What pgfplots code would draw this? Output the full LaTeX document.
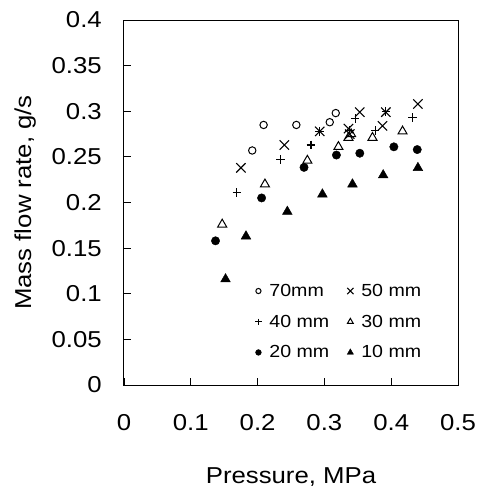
\documentclass[border=0pt]{standalone}
\usepackage{fontspec}
\setmainfont{Liberation Sans}[FakeStretch=1.12]
\usepackage{pgfplots}
\pgfplotsset{compat=1.18}
\begin{document}
\begin{tikzpicture}
\begin{axis}[
  scale only axis, width=334bp, height=365bp,
  xmin=0, xmax=0.5, ymin=0, ymax=0.4,
  xtick={0,0.1,0.2,0.3,0.4,0.5},
  ytick={0,0.05,0.1,0.15,0.2,0.25,0.3,0.35,0.4},
  tick align=inside, xtick pos=bottom, ytick pos=left,
  major tick length=7bp,
  axis line style={line width=1bp},
  every tick/.style={black, line width=0.8bp},
  /pgf/number format/assume math mode=true,
  ticklabel style={font=\fontsize{23bp}{27bp}\selectfont},
  y tick label style={/pgf/number format/fixed, /pgf/number format/precision=2, anchor=east, inner sep=0pt, xshift=-22bp},
  x tick label style={/pgf/number format/fixed, anchor=center, inner sep=0pt, yshift=-38bp},
  xlabel={Pressure, MPa}, ylabel={Mass flow rate, g/s},
  label style={font=\fontsize{23bp}{27bp}\selectfont},
  xlabel style={at={(axis description cs:0.5,-0.252)}, anchor=center},
  ylabel style={at={(axis description cs:-0.296,0.5)}, anchor=center},
  legend columns=2,
  legend cell align=left,
  legend image code/.code={\path[draw=none,fill=none] (0bp,-5bp) rectangle (15bp,5bp); \draw[mark repeat=1,#1] plot coordinates {(5bp,0bp)};},
  legend style={draw=none, fill=none, at={(axis cs:0.189,0.114)}, anchor=north west,
    font=\fontsize{17.5bp}{20bp}\selectfont,
    /tikz/every even column/.append style={column sep=15bp},
    row sep=15bp,
    nodes={inner sep=1bp}},
]
\addplot[only marks, mark=o, mark size=3.7bp, line width=1bp, legend image post style={mark size=2.6bp}] coordinates {
(0.192,0.257) (0.209,0.285) (0.258,0.285) (0.308,0.288) (0.317,0.298)};
\addlegendentry{70mm}
\addplot[only marks, mark=x, mark size=6.6bp, line width=1.1bp, legend image post style={mark size=4.4bp}] coordinates {
(0.175,0.238) (0.240,0.263) (0.293,0.278) (0.336,0.281) (0.338,0.275) (0.353,0.299) (0.392,0.299) (0.387,0.284) (0.440,0.308)};
\addlegendentry{50 mm}
\addplot[only marks, mark=+, mark size=4.3bp, line width=1.1bp, legend image post style={mark size=3.2bp}] coordinates {
(0.169,0.211) (0.234,0.247) (0.280,0.263) (0.293,0.278) (0.337,0.279) (0.346,0.292) (0.376,0.279) (0.392,0.300) (0.432,0.293)};
\addlegendentry{40 mm}
\addplot[only marks, mark=triangle, mark size=5.2bp, line width=1bp, legend image post style={mark size=3.4bp}] coordinates {
(0.147,0.176) (0.211,0.220) (0.2745,0.246) (0.321,0.261) (0.336,0.271) (0.340,0.275) (0.372,0.271) (0.417,0.278)};
\addlegendentry{30 mm}
\addplot[only marks, mark=*, mark size=4.2bp, fill=black, draw=black, legend image post style={mark size=2.9bp}] coordinates {
(0.137,0.158) (0.206,0.205) (0.2695,0.2385) (0.318,0.252) (0.353,0.254) (0.404,0.261) (0.439,0.258)};
\addlegendentry{20 mm}
\addplot[only marks, mark=triangle*, mark size=5.6bp, fill=black, draw=black, legend image post style={mark size=3.6bp}] coordinates {
(0.152,0.116) (0.1826,0.163) (0.2445,0.190) (0.297,0.209) (0.342,0.220) (0.388,0.230) (0.440,0.238)};
\addlegendentry{10 mm}
\end{axis}
\path (current axis.south west) ++(-124bp,-105bp) rectangle ++(481bp,490bp);
\end{tikzpicture}
\end{document}
